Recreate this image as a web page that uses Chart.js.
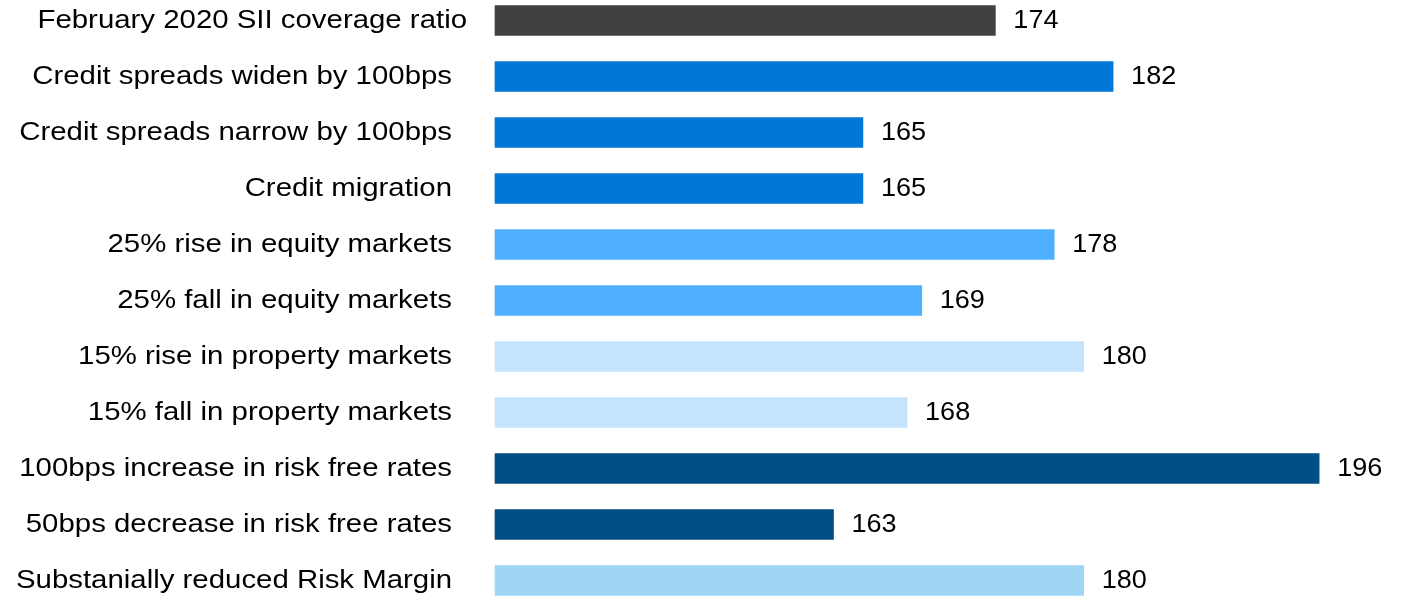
<!DOCTYPE html>
<html>
<head>
<meta charset="utf-8">
<script src="https://cdn.jsdelivr.net/npm/chart.js@4/dist/chart.umd.min.js"></script>
<style>
  html, body { margin: 0; padding: 0; background: #fff; }
  #wrap { width: 1414px; height: 597px; }
</style>
</head>
<body>
<div id="wrap"><canvas id="sensChart"></canvas></div>
<script>
// Solvency II coverage ratio sensitivities (%)
const categories = [
    "February 2020 SII coverage ratio",
    "Credit spreads widen by 100bps",
    "Credit spreads narrow by 100bps",
    "Credit migration",
    "25% rise in equity markets",
    "25% fall in equity markets",
    "15% rise in property markets",
    "15% fall in property markets",
    "100bps increase in risk free rates",
    "50bps decrease in risk free rates",
    "Substanially reduced Risk Margin"
];
const ratios = [174, 182, 165, 165, 178, 169, 180, 168, 196, 163, 180];
const barColors = [
    "#404040", "#0078d7", "#0078d7", "#0078d7",
    "#4daffe", "#4daffe", "#c5e3fd", "#c5e3fd",
    "#004f84", "#004f84", "#9fd5f5"
];
const axisMin = 140;
const axisMax = 200;

const FONT = "26px 'Liberation Sans', Arial, sans-serif";

// text drawn a little wider than the font, like the original slide
function stretchedText(ctx, txt, x, y, sx) {
    ctx.save();
    ctx.translate(x, y);
    ctx.scale(sx, 1);
    ctx.fillText(txt, 0, 0);
    ctx.restore();
}

// draws category names left of the bars and values after each bar
const labelPlugin = {
    id: "labelPlugin",
    afterDatasetsDraw(chart) {
        const ctx = chart.ctx;
        const yScale = chart.scales.y;
        const meta = chart.getDatasetMeta(0);
        ctx.save();
        ctx.font = FONT;
        ctx.fillStyle = "#000";
        ctx.textBaseline = "middle";
        categories.forEach(function(name, i) {
            let y = yScale.getPixelForValue(i);
            ctx.textAlign = "right";
            let xr = chart.chartArea.left - 43 + (i === 0 ? 15 : 0);
            stretchedText(ctx, name, xr, y, 1.13);
            ctx.textAlign = "left";
            stretchedText(ctx, String(ratios[i]), meta.data[i].x + 18, y, 1.04);
        });
        ctx.restore();
    }
};

new Chart(document.getElementById("sensChart").getContext("2d"), {
    type: "bar",
    data: {
        labels: categories,
        datasets: [{
            data: ratios,
            base: axisMin,
            backgroundColor: barColors,
            borderWidth: 0,
            barThickness: 30,
            clip: false
        }]
    },
    options: {
        indexAxis: "y",
        responsive: true,
        maintainAspectRatio: false,
        animation: false,
        layout: { padding: { left: 495, right: 36, top: 20.5, bottom: 16.5 } },
        plugins: {
            legend: { display: false },
            tooltip: { enabled: false }
        },
        scales: {
            x: { display: false, min: axisMin, max: axisMax },
            y: { display: false, offset: false }
        }
    },
    plugins: [labelPlugin]
});
</script>
</body>
</html>
